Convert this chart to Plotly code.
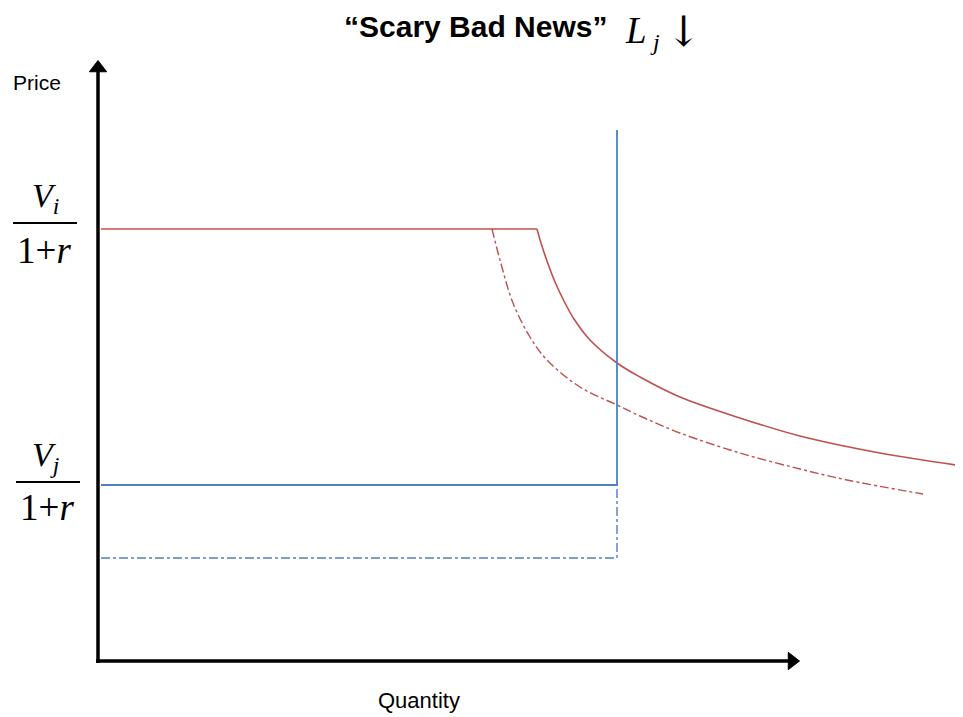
import plotly.graph_objects as go

# ---- data (quantity q, price p) ----
red_flat_q = [3, 439]
red_flat_p = [432, 432]
red_curve_q = [439, 443, 449, 457, 466, 476, 492, 519, 542, 582, 642, 702, 782, 865]
red_curve_p = [432, 418, 400, 379, 360, 342, 321, 298, 284, 264, 243, 225, 208, 195]
red_dash_q = [394, 402, 415, 432, 449, 482, 519, 542, 582, 642, 702, 749, 825]
red_dash_p = [432, 401, 358, 324, 301, 274, 256, 245, 228, 208, 192, 181, 167]
blue_q = [3, 519, 519]
blue_p = [176, 176, 531]
blue_dash_q = [3, 519, 519]
blue_dash_p = [103, 103, 176]
Vi_level = 438
Vj_level = 179
x_axis_q = [-2, 694]
x_axis_p = [0, 0]
y_axis_q = [0, 0]
y_axis_p = [-2, 593]

RED = "#C0504D"
BLUE = "#4F81BD"

fig = go.Figure()
fig.add_trace(go.Scatter(x=red_flat_q, y=red_flat_p, mode="lines",
                         line=dict(color=RED, width=1.6)))
fig.add_trace(go.Scatter(x=red_curve_q, y=red_curve_p, mode="lines",
                         line=dict(color=RED, width=1.6, shape="spline", smoothing=1.0)))
fig.add_trace(go.Scatter(x=red_dash_q, y=red_dash_p, mode="lines",
                         line=dict(color=RED, width=1.4, dash="dashdot", shape="spline", smoothing=1.0)))
fig.add_trace(go.Scatter(x=blue_q, y=blue_p, mode="lines",
                         line=dict(color=BLUE, width=1.8)))
fig.add_trace(go.Scatter(x=blue_dash_q, y=blue_dash_p, mode="lines",
                         line=dict(color=BLUE, width=1.4, dash="dashdot")))
# axes with arrowheads
for qq, pp, sym in ((x_axis_q, x_axis_p, "triangle-right"), (y_axis_q, y_axis_p, "triangle-up")):
    fig.add_trace(go.Scatter(x=qq, y=pp, mode="lines+markers",
                             line=dict(color="black", width=3.5),
                             marker=dict(symbol=sym, size=[0, 15], opacity=1,
                                         color="black", line=dict(width=1, color="black"))))

sans = "Liberation Sans"
serif = "Liberation Serif"
anns = []
anns.append(dict(x=377, y=635, xref="x", yref="y", showarrow=False,
                 text="<b>\u201cScary Bad News\u201d</b>", font=dict(family=sans, size=30, color="black")))
anns.append(dict(x=538, y=631, xref="x", yref="y", showarrow=False,
                 text="<i>L</i>", font=dict(family=serif, size=37, color="black")))
anns.append(dict(x=557, y=619, xref="x", yref="y", showarrow=False,
                 text="<i>j</i>", font=dict(family=serif, size=24, color="black")))
anns.append(dict(x=585, y=630, xref="x", yref="y", showarrow=False,
                 text="\u2193", font=dict(family="DejaVu Serif", size=42, color="black")))
anns.append(dict(x=-61, y=579, xref="x", yref="y", showarrow=False,
                 text="Price", font=dict(family=sans, size=21, color="black")))
anns.append(dict(x=321, y=-39, xref="x", yref="y", showarrow=False,
                 text="Quantity", font=dict(family=sans, size=22, color="black")))
# fractions
anns.append(dict(x=-53, y=Vi_level + 25, xref="x", yref="y", showarrow=False,
                 text="<i>V</i><sub><i>i</i></sub>", font=dict(family=serif, size=34, color="black")))
anns.append(dict(x=-54, y=Vi_level - 27, xref="x", yref="y", showarrow=False,
                 text="1+<i>r</i>", font=dict(family=serif, size=37, color="black")))
anns.append(dict(x=-52, y=Vj_level + 25, xref="x", yref="y", showarrow=False,
                 text="<i>V</i><sub><i>j</i></sub>", font=dict(family=serif, size=34, color="black")))
anns.append(dict(x=-51, y=Vj_level - 25, xref="x", yref="y", showarrow=False,
                 text="1+<i>r</i>", font=dict(family=serif, size=37, color="black")))

shapes = [
    dict(type="line", xref="x", yref="y", x0=-85, x1=-21, y0=Vi_level, y1=Vi_level,
         line=dict(color="black", width=2)),
    dict(type="line", xref="x", yref="y", x0=-82, x1=-18, y0=Vj_level, y1=Vj_level,
         line=dict(color="black", width=2)),
]

# page body adds an 8px offset, so the figure is 8px smaller than the window
fig.update_layout(
    width=955, height=709, margin=dict(l=0, r=0, t=0, b=0),
    paper_bgcolor="white", plot_bgcolor="white", showlegend=False,
    xaxis=dict(range=[-90, 865], visible=False, fixedrange=True),
    yaxis=dict(range=[-56, 653], visible=False, fixedrange=True),
    annotations=anns, shapes=shapes,
)
fig.write_html("out.html")
